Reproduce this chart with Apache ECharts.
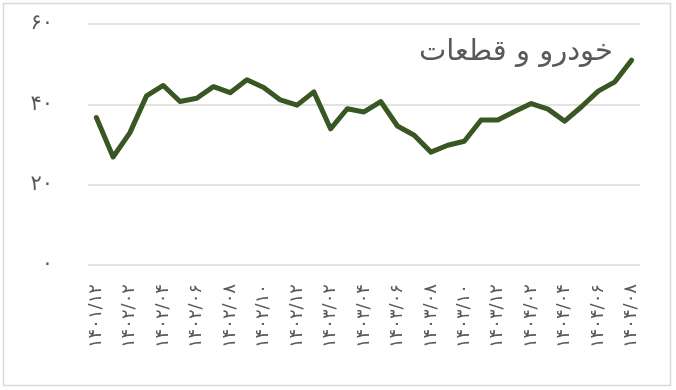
<!DOCTYPE html>
<html>
<head>
<meta charset="utf-8">
<script src="https://cdn.jsdelivr.net/npm/echarts@6/dist/echarts.min.js"></script>
<style>
html,body{margin:0;padding:0;background:#fff;}
#c{width:676px;height:390px;}
</style>
</head>
<body>
<div id="c"></div>
<script>
const categories = [
  '۱۴۰۱/۱۲',
  '۱۴۰۲/۰۱','۱۴۰۲/۰۲','۱۴۰۲/۰۳','۱۴۰۲/۰۴','۱۴۰۲/۰۵','۱۴۰۲/۰۶','۱۴۰۲/۰۷','۱۴۰۲/۰۸','۱۴۰۲/۰۹','۱۴۰۲/۱۰','۱۴۰۲/۱۱','۱۴۰۲/۱۲',
  '۱۴۰۳/۰۱','۱۴۰۳/۰۲','۱۴۰۳/۰۳','۱۴۰۳/۰۴','۱۴۰۳/۰۵','۱۴۰۳/۰۶','۱۴۰۳/۰۷','۱۴۰۳/۰۸','۱۴۰۳/۰۹','۱۴۰۳/۱۰','۱۴۰۳/۱۱','۱۴۰۳/۱۲',
  '۱۴۰۴/۰۱','۱۴۰۴/۰۲','۱۴۰۴/۰۳','۱۴۰۴/۰۴','۱۴۰۴/۰۵','۱۴۰۴/۰۶','۱۴۰۴/۰۷','۱۴۰۴/۰۸'
];
const values = [
  36.7, 26.9, 32.9, 42.1, 44.7, 40.7, 41.5, 44.4, 42.9, 46.1, 44.2,
  41.1, 39.8, 43.1, 33.9, 38.9, 38.1, 40.7, 34.6, 32.3, 28.1, 29.8,
  30.8, 36.1, 36.1, 38.2, 40.2, 38.8, 35.8, 39.4, 43.3, 45.6, 51.0
];
const yTickValues = [0, 20, 40, 60];
const yTickLabels = ['۰', '۲۰', '۴۰', '۶۰'];
const titleText = 'خودرو و قطعات';

const chart = echarts.init(document.getElementById('c'), null, {renderer: 'canvas'});
chart.setOption({
  animation: false,
  backgroundColor: '#ffffff',
  graphic: [{
    type: 'rect',
    shape: {x: 3.5, y: 3.5, width: 667, height: 382},
    style: {fill: 'none', stroke: '#d9d9d9', lineWidth: 1.5},
    silent: true
  }],
  title: {
    text: titleText,
    right: 58,
    top: 33,
    textStyle: {
      fontFamily: 'DejaVu Sans, sans-serif',
      fontSize: 29,
      fontWeight: 'normal',
      color: '#595959'
    }
  },
  grid: {left: 88, right: 36, top: 24, bottom: 125, containLabel: false},
  xAxis: {
    type: 'category',
    data: categories,
    boundaryGap: true,
    axisLine: {show: false},
    axisTick: {show: false},
    axisLabel: {
      interval: 1,
      rotate: 90,
      margin: 19,
      fontSize: 18,
      color: '#595959',
      fontFamily: 'DejaVu Sans, sans-serif'
    },
    splitLine: {show: false}
  },
  yAxis: {
    type: 'value',
    min: yTickValues[0],
    max: yTickValues[yTickValues.length - 1],
    interval: 20,
    axisLine: {show: false},
    axisTick: {show: false},
    axisLabel: {
      margin: 35,
      fontSize: 21,
      color: '#595959',
      fontFamily: 'DejaVu Sans, sans-serif',
      padding: [0, 0, 6, 0],
      formatter: function (v) {
        const i = yTickValues.indexOf(v);
        return i >= 0 ? yTickLabels[i] : '';
      }
    },
    splitLine: {lineStyle: {color: '#d9d9d9', width: 1.5}}
  },
  series: [{
    type: 'line',
    data: values,
    showSymbol: false,
    symbol: 'none',
    lineStyle: {color: '#385723', width: 5, join: 'round', cap: 'round'},
    itemStyle: {color: '#385723'}
  }]
});
</script>
</body>
</html>
